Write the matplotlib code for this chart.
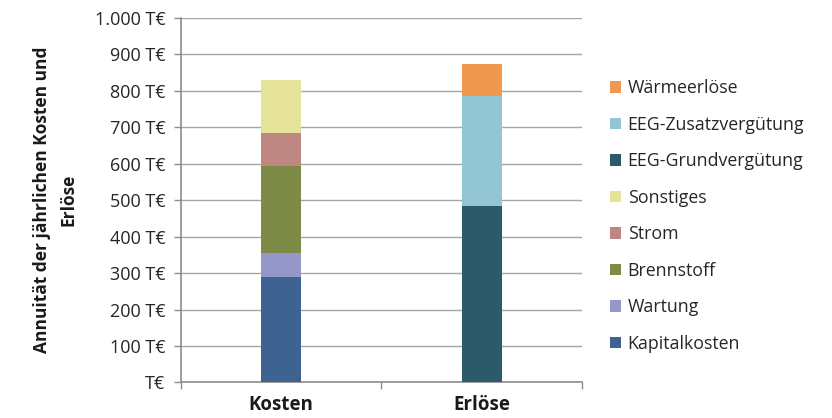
import matplotlib
matplotlib.use("Agg")
import matplotlib.pyplot as plt
from matplotlib.ticker import FuncFormatter

plt.rcParams['font.family'] = ['Open Sans', 'DejaVu Sans']

categories = ["Kosten", "Erlöse"]

# component values in T€ (stacked from bottom to top)
series_names = ["Kapitalkosten", "Wartung", "Brennstoff", "Strom", "Sonstiges",
                "EEG-Grundvergütung", "EEG-Zusatzvergütung", "Wärmeerlöse"]
kapitalkosten = [290, 0]
wartung = [65, 0]
brennstoff = [240, 0]
strom = [90, 0]
sonstiges = [145, 0]
eeg_grund = [0, 485]
eeg_zusatz = [0, 300]
waerme = [0, 88]

series_values = [kapitalkosten, wartung, brennstoff, strom, sonstiges,
                 eeg_grund, eeg_zusatz, waerme]
colors = ["#3E6292", "#9597C8", "#7E8B47", "#BE8782", "#E5E399",
          "#2C5A6A", "#93C6D5", "#F0984F"]

y_ticks = list(range(0, 1001, 100))

fig = plt.figure(figsize=(8.32, 4.18), dpi=100)
ax = fig.add_axes([0.217, 0.085, 0.483, 0.872])

x = range(len(categories))
bottom = [0, 0]
handles = []
for name, vals, col in zip(series_names, series_values, colors):
    h = ax.bar(x, vals, width=0.2, bottom=bottom, color=col, label=name, zorder=3)
    handles.append(h)
    bottom = [b + v for b, v in zip(bottom, vals)]

ax.set_xlim(-0.5, 1.5)
ax.set_ylim(0, 1000)
ax.set_yticks(y_ticks)


def fmt(v, pos):
    v = int(round(v))
    if v == 0:
        return "T€"
    return f"{v:,}".replace(",", ".") + " T€"


ax.yaxis.set_major_formatter(FuncFormatter(fmt))
ax.yaxis.grid(True, color="#A6A6A6", linewidth=1.0, zorder=0)
ax.set_axisbelow(True)

# category labels centred between tick marks at the boundaries
ax.set_xticks([-0.5, 0.5, 1.5])
ax.set_xticklabels([])
ax.set_xticks([0, 1], minor=True)
ax.set_xticklabels(categories, minor=True, fontsize=13.5, fontweight="bold",
                   color="#1a1a1a")
ax.tick_params(axis="x", which="minor", length=0, pad=9)
ax.tick_params(axis="x", which="major", length=5, color="#8C8C8C", width=1)
ax.tick_params(axis="y", length=5, color="#8C8C8C", width=1, labelsize=13,
               labelcolor="#262626", pad=6)

for side in ["top", "right"]:
    ax.spines[side].set_visible(False)
for side in ["left", "bottom"]:
    ax.spines[side].set_color("#8C8C8C")
    ax.spines[side].set_linewidth(1.2)

ax.set_ylabel("Annuität der jährlichen Kosten und\nErlöse", fontsize=12.5,
              fontweight="bold", color="#1a1a1a", labelpad=12, linespacing=1.6)

leg = fig.legend(handles[::-1], series_names[::-1], loc="upper left",
                 bbox_to_anchor=(0.722, 0.832), frameon=False, fontsize=12.8,
                 handlelength=0.62, handleheight=0.62, handletextpad=0.4,
                 labelspacing=1.04, borderpad=0)
for t in leg.get_texts():
    t.set_color("#262626")

fig.savefig("out.png", dpi=100, facecolor="white")
